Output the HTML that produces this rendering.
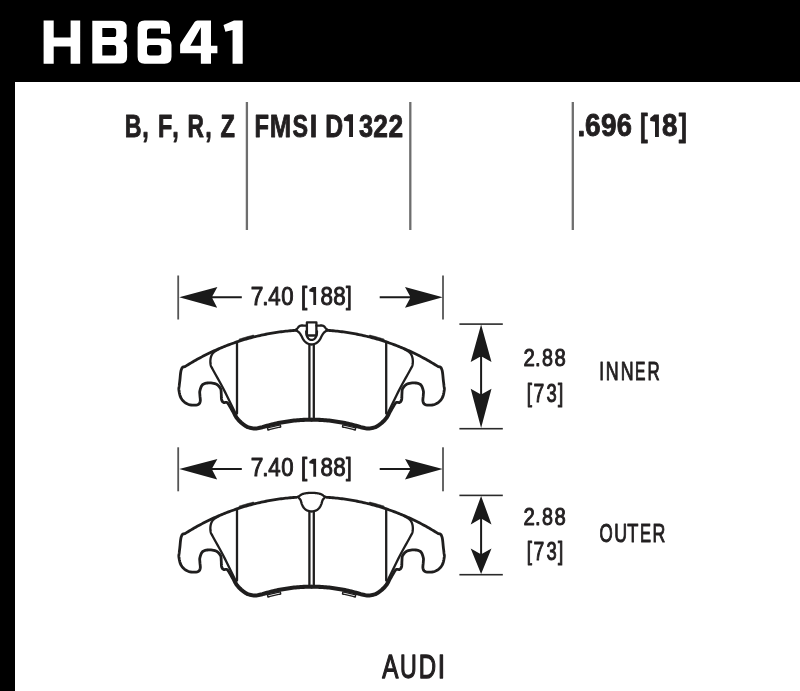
<!DOCTYPE html><html><head><meta charset="utf-8"><style>html,body{margin:0;padding:0;background:#fff;width:800px;height:691px;overflow:hidden}</style></head><body><svg width="800" height="691" viewBox="0 0 800 691" style="display:block;will-change:transform;font-family:'Liberation Sans',sans-serif"><rect x="0" y="0" width="800" height="82" fill="#000"/><rect x="0" y="0" width="15" height="691" fill="#000"/><path fill="#fff" fill-rule="evenodd" d="M43.6 20.6H53.7V37.6H70.6V20.6H80.2V63.7H70.6V46.6H53.7V63.7H43.6ZM92.3 20.7H120Q126.7 20.7 126.7 27.4V35Q126.7 39.4 123.2 40.9Q127.1 42.4 127.1 47V56.9Q127.1 63.6 120.4 63.6H92.3ZM102.3 28H113.6Q116.2 28 116.2 30.6V34.5Q116.2 37.1 113.6 37.1H102.3ZM102.3 45H113.6Q116.2 45 116.2 47.6V52.9Q116.2 55.5 113.6 55.5H102.3ZM144.6 20.5H163Q170 20.5 170 27.5V33.7H161V28.4H150Q147 28.4 147 31.4V38.6H165Q171.5 38.6 171.5 45.1V56.8Q171.5 63.8 164.5 63.8H144.6Q137.6 63.8 137.6 56.8V27.5Q137.6 20.5 144.6 20.5ZM150 45H158.3Q161.3 45 161.3 48V52.5Q161.3 55.5 158.3 55.5H150Q147 55.5 147 52.5V48Q147 45 150 45ZM197.5 20.5H211V45.7H217.4V53.3H211V63.8H200.85V53.3H180.1V45.5Q180.1 44.2 180.9 43.1L194.6 22Q195.6 20.5 197.5 20.5ZM200.85 27.3L190.3 45.7H200.85ZM234 20.5H242.7V63.8H232.55V29.9L225.4 31.8L223.5 25Z"/><text transform="translate(124.77 136.65) scale(0.726 1)" font-size="31.98" font-weight="bold" fill="#221f20" stroke="#221f20" stroke-width="0.9" stroke-linejoin="round">B</text><text transform="translate(142.35 136.65) scale(0.728 1)" font-size="31.98" font-weight="bold" fill="#221f20" stroke="#221f20" stroke-width="0.9" stroke-linejoin="round">,</text><text transform="translate(158.01 136.65) scale(0.731 1)" font-size="31.98" font-weight="bold" fill="#221f20" stroke="#221f20" stroke-width="0.9" stroke-linejoin="round">F</text><text transform="translate(172.35 136.65) scale(0.728 1)" font-size="31.98" font-weight="bold" fill="#221f20" stroke="#221f20" stroke-width="0.9" stroke-linejoin="round">,</text><text transform="translate(187.51 136.65) scale(0.711 1)" font-size="31.98" font-weight="bold" fill="#221f20" stroke="#221f20" stroke-width="0.9" stroke-linejoin="round">R</text><text transform="translate(205.18 136.65) scale(0.728 1)" font-size="31.98" font-weight="bold" fill="#221f20" stroke="#221f20" stroke-width="0.9" stroke-linejoin="round">,</text><text transform="translate(220.43 136.65) scale(0.738 1)" font-size="31.98" font-weight="bold" fill="#221f20" stroke="#221f20" stroke-width="0.9" stroke-linejoin="round">Z</text><text transform="translate(254.40 136.55) scale(0.738 1)" font-size="32.12" font-weight="bold" fill="#221f20" stroke="#221f20" stroke-width="0.9" stroke-linejoin="round">F</text><text transform="translate(269.80 136.55) scale(0.800 1)" font-size="32.12" font-weight="bold" fill="#221f20" stroke="#221f20" stroke-width="0.9" stroke-linejoin="round">M</text><text transform="translate(292.61 136.55) scale(0.725 1)" font-size="32.12" font-weight="bold" fill="#221f20" stroke="#221f20" stroke-width="0.9" stroke-linejoin="round">S</text><text transform="translate(309.75 136.55) scale(0.840 1)" font-size="32.12" font-weight="bold" fill="#221f20" stroke="#221f20" stroke-width="0.9" stroke-linejoin="round">I</text><text transform="translate(325.36 136.55) scale(0.770 1)" font-size="32.12" font-weight="bold" fill="#221f20" stroke="#221f20" stroke-width="0.9" stroke-linejoin="round">D</text><text transform="translate(358.92 136.55) scale(0.789 1)" font-size="32.12" font-weight="bold" fill="#221f20" stroke="#221f20" stroke-width="0.9" stroke-linejoin="round">3</text><text transform="translate(373.34 136.55) scale(0.821 1)" font-size="32.12" font-weight="bold" fill="#221f20" stroke="#221f20" stroke-width="0.9" stroke-linejoin="round">2</text><text transform="translate(388.38 136.55) scale(0.819 1)" font-size="32.12" font-weight="bold" fill="#221f20" stroke="#221f20" stroke-width="0.9" stroke-linejoin="round">2</text><path fill="#221f20" d="M343.9 118.0L348.5 114.3H353.0V136.9H349.1V121.6L343.9 120.8Z"/><text transform="translate(577.40 136.15) scale(0.890 1)" font-size="31.25" font-weight="bold" fill="#221f20" stroke="#221f20" stroke-width="0.9" stroke-linejoin="round">.</text><text transform="translate(585.06 136.15) scale(0.895 1)" font-size="31.25" font-weight="bold" fill="#221f20" stroke="#221f20" stroke-width="0.9" stroke-linejoin="round">6</text><text transform="translate(601.01 136.15) scale(0.894 1)" font-size="31.25" font-weight="bold" fill="#221f20" stroke="#221f20" stroke-width="0.9" stroke-linejoin="round">9</text><text transform="translate(616.82 136.15) scale(0.872 1)" font-size="31.25" font-weight="bold" fill="#221f20" stroke="#221f20" stroke-width="0.9" stroke-linejoin="round">6</text><text transform="translate(639.93 136.15) scale(0.741 1)" font-size="31.25" font-weight="bold" fill="#221f20" stroke="#221f20" stroke-width="0.9" stroke-linejoin="round">[</text><text transform="translate(661.94 136.15) scale(0.886 1)" font-size="31.25" font-weight="bold" fill="#221f20" stroke="#221f20" stroke-width="0.9" stroke-linejoin="round">8</text><text transform="translate(678.81 136.15) scale(0.784 1)" font-size="31.25" font-weight="bold" fill="#221f20" stroke="#221f20" stroke-width="0.9" stroke-linejoin="round">]</text><path fill="#221f20" d="M650.2 118.1L654.4 114.4H658.9V137.1H655.0V121.7L650.2 120.9Z"/><rect x="245.75" y="102" width="2.3" height="128" fill="#6e6e6e"/><rect x="409.15" y="102" width="2.3" height="128" fill="#6e6e6e"/><rect x="571.65" y="102" width="2.3" height="128" fill="#6e6e6e"/><rect x="177.3" y="275.5" width="1.8" height="44" fill="#555"/><rect x="442.1" y="275.5" width="1.8" height="44" fill="#555"/><path fill="#1a1a1a" d="M179.2 297.3L217.4 287.1L212.3 296.3H241.8V298.3H212.3L217.2 307.7Z"/><path fill="#1a1a1a" d="M442.7 297.3L405 287.1L410.1 296.3H379.7V298.3H410.1L405 307.7Z"/><text transform="translate(250.82 304.50) scale(0.909 1)" font-size="25.00" font-weight="normal" fill="#221f20" stroke="#221f20" stroke-width="1.0" stroke-linejoin="round">7</text><text transform="translate(262.29 304.50) scale(0.895 1)" font-size="25.00" font-weight="normal" fill="#221f20" stroke="#221f20" stroke-width="1.0" stroke-linejoin="round">.</text><text transform="translate(268.21 304.50) scale(0.890 1)" font-size="25.00" font-weight="normal" fill="#221f20" stroke="#221f20" stroke-width="1.0" stroke-linejoin="round">4</text><text transform="translate(281.32 304.50) scale(0.885 1)" font-size="25.00" font-weight="normal" fill="#221f20" stroke="#221f20" stroke-width="1.0" stroke-linejoin="round">0</text><text transform="translate(300.90 304.50) scale(0.890 1)" font-size="25.00" font-weight="normal" fill="#221f20" stroke="#221f20" stroke-width="1.0" stroke-linejoin="round">[</text><text transform="translate(320.43 304.50) scale(0.895 1)" font-size="25.00" font-weight="normal" fill="#221f20" stroke="#221f20" stroke-width="1.0" stroke-linejoin="round">8</text><text transform="translate(333.23 304.50) scale(0.895 1)" font-size="25.00" font-weight="normal" fill="#221f20" stroke="#221f20" stroke-width="1.0" stroke-linejoin="round">8</text><text transform="translate(346.05 304.50) scale(0.820 1)" font-size="25.00" font-weight="normal" fill="#221f20" stroke="#221f20" stroke-width="1.0" stroke-linejoin="round">]</text><path fill="#221f20" d="M309.3 289.6L312.7 287.0H316.1V305.0H313.3V292.2L309.3 291.4Z"/><rect x="177.3" y="447.3" width="1.8" height="44" fill="#555"/><rect x="442.1" y="447.3" width="1.8" height="44" fill="#555"/><path fill="#1a1a1a" d="M179.2 469.1L217.4 458.90000000000003L212.3 468.1H241.8V470.1H212.3L217.2 479.5Z"/><path fill="#1a1a1a" d="M442.7 469.1L405 458.90000000000003L410.1 468.1H379.7V470.1H410.1L405 479.5Z"/><text transform="translate(250.82 476.30) scale(0.909 1)" font-size="25.00" font-weight="normal" fill="#221f20" stroke="#221f20" stroke-width="1.0" stroke-linejoin="round">7</text><text transform="translate(262.29 476.30) scale(0.895 1)" font-size="25.00" font-weight="normal" fill="#221f20" stroke="#221f20" stroke-width="1.0" stroke-linejoin="round">.</text><text transform="translate(268.21 476.30) scale(0.890 1)" font-size="25.00" font-weight="normal" fill="#221f20" stroke="#221f20" stroke-width="1.0" stroke-linejoin="round">4</text><text transform="translate(281.32 476.30) scale(0.885 1)" font-size="25.00" font-weight="normal" fill="#221f20" stroke="#221f20" stroke-width="1.0" stroke-linejoin="round">0</text><text transform="translate(300.90 476.30) scale(0.890 1)" font-size="25.00" font-weight="normal" fill="#221f20" stroke="#221f20" stroke-width="1.0" stroke-linejoin="round">[</text><text transform="translate(320.43 476.30) scale(0.895 1)" font-size="25.00" font-weight="normal" fill="#221f20" stroke="#221f20" stroke-width="1.0" stroke-linejoin="round">8</text><text transform="translate(333.23 476.30) scale(0.895 1)" font-size="25.00" font-weight="normal" fill="#221f20" stroke="#221f20" stroke-width="1.0" stroke-linejoin="round">8</text><text transform="translate(346.05 476.30) scale(0.820 1)" font-size="25.00" font-weight="normal" fill="#221f20" stroke="#221f20" stroke-width="1.0" stroke-linejoin="round">]</text><path fill="#221f20" d="M309.3 461.40000000000003L312.7 458.8H316.1V476.8H313.3V464.0L309.3 463.2Z"/><rect x="459.4" y="323.30" width="43.4" height="1.6" fill="#2a2a2a"/><rect x="459.4" y="427.90" width="43.4" height="1.6" fill="#2a2a2a"/><path fill="#1a1a1a" d="M481.1 324.6L491.5 362.10L482.1 356.80V394.10L491.5 388.80L481.1 427.9L470.70000000000005 388.80L480.1 394.10V356.80L470.70000000000005 362.10Z"/><rect x="459.4" y="494.60" width="43.4" height="1.6" fill="#2a2a2a"/><rect x="459.4" y="573.90" width="43.4" height="1.6" fill="#2a2a2a"/><path fill="#1a1a1a" d="M481.1 495.9L491.5 524.40L482.1 519.10V553.80L491.5 548.50L481.1 573.9000000000001L470.70000000000005 548.50L480.1 553.80V519.10L470.70000000000005 524.40Z"/><text transform="translate(523.41 366.40) scale(0.845 1)" font-size="24.13" font-weight="normal" fill="#221f20" stroke="#221f20" stroke-width="1.0" stroke-linejoin="round">2</text><text transform="translate(535.04 366.40) scale(0.839 1)" font-size="24.13" font-weight="normal" fill="#221f20" stroke="#221f20" stroke-width="1.0" stroke-linejoin="round">.</text><text transform="translate(541.92 366.40) scale(0.817 1)" font-size="24.13" font-weight="normal" fill="#221f20" stroke="#221f20" stroke-width="1.0" stroke-linejoin="round">8</text><text transform="translate(554.42 366.40) scale(0.839 1)" font-size="24.13" font-weight="normal" fill="#221f20" stroke="#221f20" stroke-width="1.0" stroke-linejoin="round">8</text><text transform="translate(526.75 401.80) scale(0.754 1)" font-size="24.86" font-weight="normal" fill="#221f20" stroke="#221f20" stroke-width="1.0" stroke-linejoin="round">[</text><text transform="translate(533.42 401.80) scale(0.778 1)" font-size="24.86" font-weight="normal" fill="#221f20" stroke="#221f20" stroke-width="1.0" stroke-linejoin="round">7</text><text transform="translate(546.39 401.80) scale(0.740 1)" font-size="24.86" font-weight="normal" fill="#221f20" stroke="#221f20" stroke-width="1.0" stroke-linejoin="round">3</text><text transform="translate(558.06 401.80) scale(0.764 1)" font-size="24.86" font-weight="normal" fill="#221f20" stroke="#221f20" stroke-width="1.0" stroke-linejoin="round">]</text><text transform="translate(523.41 525.20) scale(0.845 1)" font-size="24.13" font-weight="normal" fill="#221f20" stroke="#221f20" stroke-width="1.0" stroke-linejoin="round">2</text><text transform="translate(535.04 525.20) scale(0.839 1)" font-size="24.13" font-weight="normal" fill="#221f20" stroke="#221f20" stroke-width="1.0" stroke-linejoin="round">.</text><text transform="translate(541.92 525.20) scale(0.817 1)" font-size="24.13" font-weight="normal" fill="#221f20" stroke="#221f20" stroke-width="1.0" stroke-linejoin="round">8</text><text transform="translate(554.42 525.20) scale(0.839 1)" font-size="24.13" font-weight="normal" fill="#221f20" stroke="#221f20" stroke-width="1.0" stroke-linejoin="round">8</text><text transform="translate(526.75 560.40) scale(0.754 1)" font-size="24.86" font-weight="normal" fill="#221f20" stroke="#221f20" stroke-width="1.0" stroke-linejoin="round">[</text><text transform="translate(533.42 560.40) scale(0.778 1)" font-size="24.86" font-weight="normal" fill="#221f20" stroke="#221f20" stroke-width="1.0" stroke-linejoin="round">7</text><text transform="translate(546.39 560.40) scale(0.740 1)" font-size="24.86" font-weight="normal" fill="#221f20" stroke="#221f20" stroke-width="1.0" stroke-linejoin="round">3</text><text transform="translate(558.06 560.40) scale(0.764 1)" font-size="24.86" font-weight="normal" fill="#221f20" stroke="#221f20" stroke-width="1.0" stroke-linejoin="round">]</text><text transform="translate(599.32 379.70) scale(0.674 1)" font-size="25.44" font-weight="normal" fill="#221f20" stroke="#221f20" stroke-width="1.0" stroke-linejoin="round">I</text><text transform="translate(605.74 379.70) scale(0.703 1)" font-size="25.44" font-weight="normal" fill="#221f20" stroke="#221f20" stroke-width="1.0" stroke-linejoin="round">N</text><text transform="translate(620.63 379.70) scale(0.701 1)" font-size="25.44" font-weight="normal" fill="#221f20" stroke="#221f20" stroke-width="1.0" stroke-linejoin="round">N</text><text transform="translate(635.07 379.70) scale(0.618 1)" font-size="25.44" font-weight="normal" fill="#221f20" stroke="#221f20" stroke-width="1.0" stroke-linejoin="round">E</text><text transform="translate(647.54 379.70) scale(0.665 1)" font-size="25.44" font-weight="normal" fill="#221f20" stroke="#221f20" stroke-width="1.0" stroke-linejoin="round">R</text><text transform="translate(599.62 541.80) scale(0.666 1)" font-size="25.44" font-weight="normal" fill="#221f20" stroke="#221f20" stroke-width="1.0" stroke-linejoin="round">O</text><text transform="translate(614.13 541.80) scale(0.699 1)" font-size="25.44" font-weight="normal" fill="#221f20" stroke="#221f20" stroke-width="1.0" stroke-linejoin="round">U</text><text transform="translate(627.22 541.80) scale(0.716 1)" font-size="25.44" font-weight="normal" fill="#221f20" stroke="#221f20" stroke-width="1.0" stroke-linejoin="round">T</text><text transform="translate(640.11 541.80) scale(0.650 1)" font-size="25.44" font-weight="normal" fill="#221f20" stroke="#221f20" stroke-width="1.0" stroke-linejoin="round">E</text><text transform="translate(652.39 541.80) scale(0.699 1)" font-size="25.44" font-weight="normal" fill="#221f20" stroke="#221f20" stroke-width="1.0" stroke-linejoin="round">R</text><text transform="translate(382.17 677.83) scale(0.720 1)" font-size="33.65" font-weight="normal" fill="#221f20" stroke="#221f20" stroke-width="1.35" stroke-linejoin="round">A</text><text transform="translate(400.12 677.83) scale(0.689 1)" font-size="33.65" font-weight="normal" fill="#221f20" stroke="#221f20" stroke-width="1.35" stroke-linejoin="round">U</text><text transform="translate(418.67 677.83) scale(0.713 1)" font-size="33.65" font-weight="normal" fill="#221f20" stroke="#221f20" stroke-width="1.35" stroke-linejoin="round">D</text><text transform="translate(437.85 677.83) scale(0.781 1)" font-size="33.65" font-weight="normal" fill="#221f20" stroke="#221f20" stroke-width="1.35" stroke-linejoin="round">I</text><g fill="none" stroke="#1f1e1e" stroke-width="2.3" stroke-linejoin="round" stroke-linecap="round"><path d="M296.50 330.28 L294.97 330.39 L293.45 330.50 L291.92 330.62 L290.39 330.75 L288.86 330.90 L287.34 331.05 L285.81 331.21 L284.28 331.39 L282.75 331.57 L281.23 331.76 L279.70 331.96 L278.17 332.18 L276.64 332.40 L275.12 332.63 L273.59 332.88 L272.06 333.13 L270.53 333.40 L269.01 333.67 L267.48 333.96 L265.95 334.25 L264.42 334.56 L262.90 334.88 L261.37 335.20 L259.84 335.54 L258.32 335.89 L256.79 336.25 L255.26 336.62 L253.73 337.00 L252.21 337.39 L250.68 337.79 L249.15 338.21 L247.62 338.63 L246.10 339.06 L244.57 339.51 L243.04 339.97 L241.51 340.44 L239.99 340.92 L238.46 341.41 L236.93 341.91 L235.40 342.43 L233.88 342.95 L232.35 343.49 L230.82 344.04 L229.29 344.60 L227.77 345.18 L226.24 345.76 L224.71 346.36 L223.18 346.97 L221.66 347.59 L220.13 348.23 L218.60 348.88 L217.08 349.54 L215.55 350.21 L214.02 350.90 L212.49 351.60 L210.97 352.31 L209.44 353.04 L207.91 353.78 L206.38 354.53 L204.86 355.30 L203.33 356.08 L201.80 356.87 L200.27 357.68 L198.75 358.50 L197.22 359.34 L195.69 360.19 L194.16 361.06 L192.64 361.95 L191.11 362.84 L189.58 363.76 L188.05 364.69 L186.53 365.63 L185.00 366.59 L184.61 366.68 L184.20 366.74 L183.79 366.80 L183.39 366.88 L183.03 367.01 L182.70 367.20 L182.42 367.46 L182.17 367.76 L181.96 368.11 L181.76 368.50 L181.58 368.93 L181.40 369.40 L181.24 369.88 L181.09 370.37 L180.96 370.90 L180.84 371.50 L180.72 372.19 L180.60 373.00 L180.48 373.98 L180.36 375.12 L180.24 376.35 L180.13 377.61 L180.02 378.85 L179.90 380.00 L179.78 381.08 L179.65 382.15 L179.53 383.19 L179.40 384.19 L179.29 385.13 L179.20 386.00 L179.10 386.74 L178.99 387.35 L178.89 387.91 L178.83 388.48 L178.82 389.15 L178.90 390.00 L179.05 391.07 L179.26 392.32 L179.53 393.67 L179.86 395.04 L180.26 396.34 L180.75 397.50 L181.33 398.54 L182.00 399.53 L182.74 400.45 L183.54 401.31 L184.38 402.07 L185.25 402.75 L186.15 403.33 L187.11 403.82 L188.11 404.23 L189.14 404.56 L190.19 404.81 L191.25 405.00 L192.38 405.12 L193.61 405.17 L194.86 405.15 L196.06 405.05 L197.13 404.87 L198.00 404.60 L198.67 404.24 L199.18 403.80 L199.57 403.28 L199.86 402.67 L200.08 402.00 L200.25 401.25 L200.34 400.39 L200.31 399.39 L200.22 398.32 L200.09 397.24 L199.97 396.19 L199.90 395.25 L199.85 394.43 L199.78 393.69 L199.72 393.00 L199.69 392.31 L199.75 391.57 L199.90 390.75 L200.14 389.79 L200.45 388.71 L200.83 387.58 L201.29 386.50 L201.84 385.53 L202.50 384.75 L203.29 384.17 L204.19 383.72 L205.19 383.38 L206.26 383.14 L207.37 382.99 L208.50 382.90 L209.70 382.87 L211.00 382.92 L212.34 383.05 L213.67 383.27 L214.91 383.59 L216.00 384.00 L216.97 384.54 L217.86 385.22 L218.67 385.99 L219.39 386.82 L220.00 387.67 L220.50 388.50 L220.85 389.32 L221.04 390.17 L221.13 391.03 L221.17 391.92 L221.19 392.82 L221.25 393.75 L221.31 394.75 L221.34 395.82 L221.35 396.91 L221.38 397.97 L221.46 398.94 L221.60 399.75 L221.81 400.42 L222.08 400.98 L222.38 401.45 L222.73 401.84 L223.10 402.15 L223.50 402.40 L223.95 402.54 L224.46 402.54 L225.01 402.47 L225.55 402.39 L226.06 402.34 L226.50 402.40 L226.84 402.50 L227.08 402.57 L227.30 402.69 L227.53 402.91 L227.83 403.29 L228.25 403.90 L228.82 404.79 L229.50 405.93 L230.25 407.23 L231.03 408.61 L231.79 409.98 L232.50 411.25 L233.14 412.45 L233.73 413.65 L234.31 414.84 L234.91 416.01 L235.54 417.13 L236.25 418.20 L237.03 419.22 L237.86 420.20 L238.73 421.14 L239.64 422.04 L240.56 422.89 L241.50 423.70 L242.44 424.47 L243.39 425.21 L244.36 425.90 L245.36 426.54 L246.40 427.11 L247.50 427.60 L248.66 428.02 L249.89 428.38 L251.16 428.68 L252.44 428.90 L253.73 429.04 L255.00 429.10 L256.25 429.05 L257.50 428.87 L258.75 428.63 L260.00 428.34 L261.25 428.05 L262.50 427.80 L262.50 427.77 L264.08 427.29 L265.67 426.82 L267.25 426.37 L268.84 425.94 L270.42 425.52 L272.00 425.12 L273.59 424.74 L275.17 424.37 L276.75 424.02 L278.34 423.69 L279.92 423.37 L281.51 423.07 L283.09 422.78 L284.67 422.51 L286.26 422.26 L287.84 422.02 L289.43 421.80 L291.01 421.59 L292.59 421.40 L294.18 421.22 L295.76 421.06 L297.35 420.92 L298.93 420.79 L300.51 420.67 L302.10 420.57 L303.68 420.49 L305.26 420.42 L306.85 420.37 L308.43 420.33 L310.02 420.31 L311.60 420.30" stroke-width="2.8"/><path d="M326.70 330.28 L328.23 330.39 L329.75 330.50 L331.28 330.62 L332.81 330.75 L334.34 330.90 L335.86 331.05 L337.39 331.21 L338.92 331.39 L340.45 331.57 L341.97 331.76 L343.50 331.96 L345.03 332.18 L346.56 332.40 L348.08 332.63 L349.61 332.88 L351.14 333.13 L352.67 333.40 L354.19 333.67 L355.72 333.96 L357.25 334.25 L358.78 334.56 L360.30 334.88 L361.83 335.20 L363.36 335.54 L364.88 335.89 L366.41 336.25 L367.94 336.62 L369.47 337.00 L370.99 337.39 L372.52 337.79 L374.05 338.21 L375.58 338.63 L377.10 339.06 L378.63 339.51 L380.16 339.97 L381.69 340.44 L383.21 340.92 L384.74 341.41 L386.27 341.91 L387.80 342.43 L389.32 342.95 L390.85 343.49 L392.38 344.04 L393.91 344.60 L395.43 345.18 L396.96 345.76 L398.49 346.36 L400.02 346.97 L401.54 347.59 L403.07 348.23 L404.60 348.88 L406.12 349.54 L407.65 350.21 L409.18 350.90 L410.71 351.60 L412.23 352.31 L413.76 353.04 L415.29 353.78 L416.82 354.53 L418.34 355.30 L419.87 356.08 L421.40 356.87 L422.93 357.68 L424.45 358.50 L425.98 359.34 L427.51 360.19 L429.04 361.06 L430.56 361.95 L432.09 362.84 L433.62 363.76 L435.15 364.69 L436.67 365.63 L438.20 366.59 L438.59 366.68 L439.00 366.74 L439.41 366.80 L439.81 366.88 L440.17 367.01 L440.50 367.20 L440.78 367.46 L441.03 367.76 L441.24 368.11 L441.44 368.50 L441.62 368.93 L441.80 369.40 L441.96 369.88 L442.11 370.37 L442.24 370.90 L442.36 371.50 L442.48 372.19 L442.60 373.00 L442.72 373.98 L442.84 375.12 L442.96 376.35 L443.07 377.61 L443.18 378.85 L443.30 380.00 L443.42 381.08 L443.55 382.15 L443.68 383.19 L443.80 384.19 L443.91 385.13 L444.00 386.00 L444.10 386.74 L444.21 387.35 L444.31 387.91 L444.37 388.48 L444.38 389.15 L444.30 390.00 L444.15 391.07 L443.94 392.32 L443.68 393.67 L443.34 395.04 L442.94 396.34 L442.45 397.50 L441.87 398.54 L441.20 399.53 L440.46 400.45 L439.66 401.31 L438.82 402.07 L437.95 402.75 L437.05 403.33 L436.09 403.82 L435.09 404.23 L434.06 404.56 L433.01 404.81 L431.95 405.00 L430.82 405.12 L429.59 405.17 L428.34 405.15 L427.14 405.05 L426.07 404.87 L425.20 404.60 L424.53 404.24 L424.02 403.80 L423.63 403.28 L423.34 402.67 L423.12 402.00 L422.95 401.25 L422.86 400.39 L422.89 399.39 L422.98 398.32 L423.11 397.24 L423.23 396.19 L423.30 395.25 L423.35 394.43 L423.42 393.69 L423.48 393.00 L423.51 392.31 L423.45 391.57 L423.30 390.75 L423.06 389.79 L422.75 388.71 L422.38 387.58 L421.91 386.50 L421.36 385.53 L420.70 384.75 L419.91 384.17 L419.01 383.72 L418.01 383.38 L416.94 383.14 L415.83 382.99 L414.70 382.90 L413.50 382.87 L412.20 382.92 L410.86 383.05 L409.53 383.27 L408.29 383.59 L407.20 384.00 L406.23 384.54 L405.34 385.22 L404.53 385.99 L403.81 386.82 L403.20 387.67 L402.70 388.50 L402.35 389.32 L402.16 390.17 L402.07 391.03 L402.03 391.92 L402.01 392.82 L401.95 393.75 L401.89 394.75 L401.86 395.82 L401.85 396.91 L401.82 397.97 L401.74 398.94 L401.60 399.75 L401.39 400.42 L401.12 400.98 L400.82 401.45 L400.47 401.84 L400.10 402.15 L399.70 402.40 L399.25 402.54 L398.74 402.54 L398.19 402.47 L397.65 402.39 L397.14 402.34 L396.70 402.40 L396.36 402.50 L396.12 402.57 L395.90 402.69 L395.67 402.91 L395.37 403.29 L394.95 403.90 L394.38 404.79 L393.70 405.93 L392.95 407.23 L392.17 408.61 L391.41 409.98 L390.70 411.25 L390.06 412.45 L389.47 413.65 L388.89 414.84 L388.29 416.01 L387.66 417.13 L386.95 418.20 L386.17 419.22 L385.34 420.20 L384.47 421.14 L383.56 422.04 L382.64 422.89 L381.70 423.70 L380.76 424.47 L379.81 425.21 L378.84 425.90 L377.84 426.54 L376.80 427.11 L375.70 427.60 L374.54 428.02 L373.31 428.38 L372.04 428.68 L370.76 428.90 L369.47 429.04 L368.20 429.10 L366.95 429.05 L365.70 428.87 L364.45 428.63 L363.20 428.34 L361.95 428.05 L360.70 427.80 L360.70 427.77 L359.12 427.29 L357.53 426.82 L355.95 426.37 L354.36 425.94 L352.78 425.52 L351.20 425.12 L349.61 424.74 L348.03 424.37 L346.45 424.02 L344.86 423.69 L343.28 423.37 L341.69 423.07 L340.11 422.78 L338.53 422.51 L336.94 422.26 L335.36 422.02 L333.77 421.80 L332.19 421.59 L330.61 421.40 L329.02 421.22 L327.44 421.06 L325.85 420.92 L324.27 420.79 L322.69 420.67 L321.10 420.57 L319.52 420.49 L317.94 420.42 L316.35 420.37 L314.77 420.33 L313.18 420.31 L311.60 420.30" stroke-width="2.8"/><path d="M219.00 349.01 L218.00 349.62 L216.94 350.22 L215.89 350.82 L214.89 351.43 L213.98 352.09 L213.20 352.80 L212.56 353.57 L212.03 354.38 L211.59 355.23 L211.23 356.12 L210.94 357.04 L210.70 358.00 L210.52 359.03 L210.40 360.13 L210.36 361.26 L210.37 362.40 L210.46 363.49 L210.60 364.50 L210.74 365.26 L210.87 365.78 L211.06 366.25 L211.39 366.89 L211.94 367.90 L212.80 369.50 L214.02 371.74 L215.56 374.48 L217.31 377.59 L219.20 380.96 L221.13 384.47 L223.00 388.00 L224.85 391.63 L226.76 395.46 L228.71 399.44 L230.68 403.48 L232.65 407.53 L234.60 411.50 L236.23 415.30 L236.82 416.35 L237.47 417.33 L238.20 418.28 L238.98 419.20 L239.81 420.10 L240.68 420.96 L241.56 421.77 L242.47 422.55 L243.37 423.30 L244.28 424.00 L245.20 424.66 L246.12 425.25 L247.07 425.76 L248.06 426.21 L249.13 426.60 L250.27 426.93 L251.45 427.20 L252.65 427.41 L253.85 427.54 L255.00 427.60 L256.11 427.55 L257.25 427.39 L258.43 427.16 L259.66 426.88 L260.93 426.58 L262.11 426.35 L263.64 425.86 L265.25 425.38 L266.85 424.93 L268.45 424.49 L270.04 424.07 L271.64 423.67 L273.24 423.28 L274.84 422.91 L276.44 422.56 L278.04 422.22 L279.63 421.90 L281.23 421.59 L282.83 421.30 L284.43 421.03 L286.03 420.78 L287.63 420.54 L289.22 420.31 L290.82 420.10 L292.42 419.91 L294.02 419.73 L295.62 419.57 L297.22 419.42 L298.81 419.29 L300.41 419.18 L302.01 419.08 L303.61 418.99 L305.21 418.92 L306.81 418.87 L308.40 418.83 L310.00 418.81 L311.59 418.80"/><path d="M404.20 349.01 L405.20 349.62 L406.26 350.22 L407.31 350.82 L408.31 351.43 L409.22 352.09 L410.00 352.80 L410.64 353.57 L411.17 354.38 L411.61 355.23 L411.97 356.12 L412.26 357.04 L412.50 358.00 L412.68 359.03 L412.80 360.13 L412.84 361.26 L412.83 362.40 L412.74 363.49 L412.60 364.50 L412.46 365.26 L412.33 365.78 L412.14 366.25 L411.81 366.89 L411.26 367.90 L410.40 369.50 L409.18 371.74 L407.64 374.48 L405.89 377.59 L404.00 380.96 L402.07 384.47 L400.20 388.00 L398.35 391.63 L396.44 395.46 L394.49 399.44 L392.52 403.48 L390.55 407.53 L388.60 411.50 L386.97 415.30 L386.38 416.35 L385.73 417.33 L385.00 418.28 L384.22 419.20 L383.39 420.10 L382.52 420.96 L381.64 421.77 L380.73 422.55 L379.83 423.30 L378.92 424.00 L378.00 424.66 L377.08 425.25 L376.13 425.76 L375.14 426.21 L374.07 426.60 L372.93 426.93 L371.75 427.20 L370.55 427.41 L369.35 427.54 L368.20 427.60 L367.09 427.55 L365.95 427.39 L364.77 427.16 L363.54 426.88 L362.27 426.58 L361.09 426.35 L359.56 425.86 L357.95 425.38 L356.35 424.93 L354.75 424.49 L353.16 424.07 L351.56 423.67 L349.96 423.28 L348.36 422.91 L346.76 422.56 L345.16 422.22 L343.57 421.90 L341.97 421.59 L340.37 421.30 L338.77 421.03 L337.17 420.78 L335.57 420.54 L333.98 420.31 L332.38 420.10 L330.78 419.91 L329.18 419.73 L327.58 419.57 L325.98 419.42 L324.39 419.29 L322.79 419.18 L321.19 419.08 L319.59 418.99 L317.99 418.92 L316.39 418.87 L314.80 418.83 L313.20 418.81 L311.61 418.80"/><path d="M237 341.89 L237 413.50"/><path d="M386.20 341.89 L386.20 413.50"/><path d="M296.50 497.28 L294.97 497.39 L293.45 497.50 L291.92 497.62 L290.39 497.75 L288.86 497.90 L287.34 498.05 L285.81 498.21 L284.28 498.39 L282.75 498.57 L281.23 498.76 L279.70 498.96 L278.17 499.18 L276.64 499.40 L275.12 499.63 L273.59 499.88 L272.06 500.13 L270.53 500.40 L269.01 500.67 L267.48 500.96 L265.95 501.25 L264.42 501.56 L262.90 501.88 L261.37 502.20 L259.84 502.54 L258.32 502.89 L256.79 503.25 L255.26 503.62 L253.73 504.00 L252.21 504.39 L250.68 504.79 L249.15 505.21 L247.62 505.63 L246.10 506.06 L244.57 506.51 L243.04 506.97 L241.51 507.44 L239.99 507.92 L238.46 508.41 L236.93 508.91 L235.40 509.43 L233.88 509.95 L232.35 510.49 L230.82 511.04 L229.29 511.60 L227.77 512.18 L226.24 512.76 L224.71 513.36 L223.18 513.97 L221.66 514.59 L220.13 515.23 L218.60 515.88 L217.08 516.54 L215.55 517.21 L214.02 517.90 L212.49 518.60 L210.97 519.31 L209.44 520.04 L207.91 520.78 L206.38 521.53 L204.86 522.30 L203.33 523.08 L201.80 523.87 L200.27 524.68 L198.75 525.50 L197.22 526.34 L195.69 527.19 L194.16 528.06 L192.64 528.95 L191.11 529.84 L189.58 530.76 L188.05 531.69 L186.53 532.63 L185.00 533.59 L184.61 533.68 L184.20 533.74 L183.79 533.80 L183.39 533.88 L183.03 534.01 L182.70 534.20 L182.42 534.46 L182.17 534.76 L181.96 535.11 L181.76 535.50 L181.58 535.93 L181.40 536.40 L181.24 536.88 L181.09 537.37 L180.96 537.90 L180.84 538.50 L180.72 539.19 L180.60 540.00 L180.48 540.98 L180.36 542.12 L180.24 543.35 L180.13 544.61 L180.02 545.85 L179.90 547.00 L179.78 548.08 L179.65 549.15 L179.53 550.19 L179.40 551.19 L179.29 552.13 L179.20 553.00 L179.10 553.74 L178.99 554.35 L178.89 554.91 L178.83 555.48 L178.82 556.15 L178.90 557.00 L179.05 558.07 L179.26 559.32 L179.53 560.67 L179.86 562.04 L180.26 563.34 L180.75 564.50 L181.33 565.54 L182.00 566.53 L182.74 567.45 L183.54 568.31 L184.38 569.07 L185.25 569.75 L186.15 570.33 L187.11 570.82 L188.11 571.23 L189.14 571.56 L190.19 571.81 L191.25 572.00 L192.38 572.12 L193.61 572.17 L194.86 572.15 L196.06 572.05 L197.13 571.87 L198.00 571.60 L198.67 571.24 L199.18 570.80 L199.57 570.28 L199.86 569.67 L200.08 569.00 L200.25 568.25 L200.34 567.39 L200.31 566.39 L200.22 565.32 L200.09 564.24 L199.97 563.19 L199.90 562.25 L199.85 561.43 L199.78 560.69 L199.72 560.00 L199.69 559.31 L199.75 558.57 L199.90 557.75 L200.14 556.79 L200.45 555.71 L200.83 554.58 L201.29 553.50 L201.84 552.53 L202.50 551.75 L203.29 551.17 L204.19 550.72 L205.19 550.38 L206.26 550.14 L207.37 549.99 L208.50 549.90 L209.70 549.87 L211.00 549.92 L212.34 550.05 L213.67 550.27 L214.91 550.59 L216.00 551.00 L216.97 551.54 L217.86 552.22 L218.67 552.99 L219.39 553.82 L220.00 554.67 L220.50 555.50 L220.85 556.32 L221.04 557.17 L221.13 558.03 L221.17 558.92 L221.19 559.82 L221.25 560.75 L221.31 561.75 L221.34 562.82 L221.35 563.91 L221.38 564.97 L221.46 565.94 L221.60 566.75 L221.81 567.42 L222.08 567.98 L222.38 568.45 L222.73 568.84 L223.10 569.15 L223.50 569.40 L223.95 569.54 L224.46 569.54 L225.01 569.47 L225.55 569.39 L226.06 569.34 L226.50 569.40 L226.84 569.50 L227.08 569.57 L227.30 569.69 L227.53 569.91 L227.83 570.29 L228.25 570.90 L228.82 571.79 L229.50 572.93 L230.25 574.23 L231.03 575.61 L231.79 576.98 L232.50 578.25 L233.14 579.45 L233.73 580.65 L234.31 581.84 L234.91 583.01 L235.54 584.13 L236.25 585.20 L237.03 586.22 L237.86 587.20 L238.73 588.14 L239.64 589.04 L240.56 589.89 L241.50 590.70 L242.44 591.47 L243.39 592.21 L244.36 592.90 L245.36 593.54 L246.40 594.11 L247.50 594.60 L248.66 595.02 L249.89 595.38 L251.16 595.68 L252.44 595.90 L253.73 596.04 L255.00 596.10 L256.25 596.05 L257.50 595.87 L258.75 595.62 L260.00 595.34 L261.25 595.05 L262.50 594.80 L262.50 594.77 L264.08 594.29 L265.67 593.82 L267.25 593.37 L268.84 592.94 L270.42 592.52 L272.00 592.12 L273.59 591.74 L275.17 591.37 L276.75 591.02 L278.34 590.69 L279.92 590.37 L281.51 590.07 L283.09 589.78 L284.67 589.51 L286.26 589.26 L287.84 589.02 L289.43 588.80 L291.01 588.59 L292.59 588.40 L294.18 588.22 L295.76 588.06 L297.35 587.92 L298.93 587.79 L300.51 587.67 L302.10 587.57 L303.68 587.49 L305.26 587.42 L306.85 587.37 L308.43 587.33 L310.02 587.31 L311.60 587.30" stroke-width="2.8"/><path d="M326.70 497.28 L328.23 497.39 L329.75 497.50 L331.28 497.62 L332.81 497.75 L334.34 497.90 L335.86 498.05 L337.39 498.21 L338.92 498.39 L340.45 498.57 L341.97 498.76 L343.50 498.96 L345.03 499.18 L346.56 499.40 L348.08 499.63 L349.61 499.88 L351.14 500.13 L352.67 500.40 L354.19 500.67 L355.72 500.96 L357.25 501.25 L358.78 501.56 L360.30 501.88 L361.83 502.20 L363.36 502.54 L364.88 502.89 L366.41 503.25 L367.94 503.62 L369.47 504.00 L370.99 504.39 L372.52 504.79 L374.05 505.21 L375.58 505.63 L377.10 506.06 L378.63 506.51 L380.16 506.97 L381.69 507.44 L383.21 507.92 L384.74 508.41 L386.27 508.91 L387.80 509.43 L389.32 509.95 L390.85 510.49 L392.38 511.04 L393.91 511.60 L395.43 512.18 L396.96 512.76 L398.49 513.36 L400.02 513.97 L401.54 514.59 L403.07 515.23 L404.60 515.88 L406.12 516.54 L407.65 517.21 L409.18 517.90 L410.71 518.60 L412.23 519.31 L413.76 520.04 L415.29 520.78 L416.82 521.53 L418.34 522.30 L419.87 523.08 L421.40 523.87 L422.93 524.68 L424.45 525.50 L425.98 526.34 L427.51 527.19 L429.04 528.06 L430.56 528.95 L432.09 529.84 L433.62 530.76 L435.15 531.69 L436.67 532.63 L438.20 533.59 L438.59 533.68 L439.00 533.74 L439.41 533.80 L439.81 533.88 L440.17 534.01 L440.50 534.20 L440.78 534.46 L441.03 534.76 L441.24 535.11 L441.44 535.50 L441.62 535.93 L441.80 536.40 L441.96 536.88 L442.11 537.37 L442.24 537.90 L442.36 538.50 L442.48 539.19 L442.60 540.00 L442.72 540.98 L442.84 542.12 L442.96 543.35 L443.07 544.61 L443.18 545.85 L443.30 547.00 L443.42 548.08 L443.55 549.15 L443.68 550.19 L443.80 551.19 L443.91 552.13 L444.00 553.00 L444.10 553.74 L444.21 554.35 L444.31 554.91 L444.37 555.48 L444.38 556.15 L444.30 557.00 L444.15 558.07 L443.94 559.32 L443.68 560.67 L443.34 562.04 L442.94 563.34 L442.45 564.50 L441.87 565.54 L441.20 566.53 L440.46 567.45 L439.66 568.31 L438.82 569.07 L437.95 569.75 L437.05 570.33 L436.09 570.82 L435.09 571.23 L434.06 571.56 L433.01 571.81 L431.95 572.00 L430.82 572.12 L429.59 572.17 L428.34 572.15 L427.14 572.05 L426.07 571.87 L425.20 571.60 L424.53 571.24 L424.02 570.80 L423.63 570.28 L423.34 569.67 L423.12 569.00 L422.95 568.25 L422.86 567.39 L422.89 566.39 L422.98 565.32 L423.11 564.24 L423.23 563.19 L423.30 562.25 L423.35 561.43 L423.42 560.69 L423.48 560.00 L423.51 559.31 L423.45 558.57 L423.30 557.75 L423.06 556.79 L422.75 555.71 L422.38 554.58 L421.91 553.50 L421.36 552.53 L420.70 551.75 L419.91 551.17 L419.01 550.72 L418.01 550.38 L416.94 550.14 L415.83 549.99 L414.70 549.90 L413.50 549.87 L412.20 549.92 L410.86 550.05 L409.53 550.27 L408.29 550.59 L407.20 551.00 L406.23 551.54 L405.34 552.22 L404.53 552.99 L403.81 553.82 L403.20 554.67 L402.70 555.50 L402.35 556.32 L402.16 557.17 L402.07 558.03 L402.03 558.92 L402.01 559.82 L401.95 560.75 L401.89 561.75 L401.86 562.82 L401.85 563.91 L401.82 564.97 L401.74 565.94 L401.60 566.75 L401.39 567.42 L401.12 567.98 L400.82 568.45 L400.47 568.84 L400.10 569.15 L399.70 569.40 L399.25 569.54 L398.74 569.54 L398.19 569.47 L397.65 569.39 L397.14 569.34 L396.70 569.40 L396.36 569.50 L396.12 569.57 L395.90 569.69 L395.67 569.91 L395.37 570.29 L394.95 570.90 L394.38 571.79 L393.70 572.93 L392.95 574.23 L392.17 575.61 L391.41 576.98 L390.70 578.25 L390.06 579.45 L389.47 580.65 L388.89 581.84 L388.29 583.01 L387.66 584.13 L386.95 585.20 L386.17 586.22 L385.34 587.20 L384.47 588.14 L383.56 589.04 L382.64 589.89 L381.70 590.70 L380.76 591.47 L379.81 592.21 L378.84 592.90 L377.84 593.54 L376.80 594.11 L375.70 594.60 L374.54 595.02 L373.31 595.38 L372.04 595.68 L370.76 595.90 L369.47 596.04 L368.20 596.10 L366.95 596.05 L365.70 595.87 L364.45 595.62 L363.20 595.34 L361.95 595.05 L360.70 594.80 L360.70 594.77 L359.12 594.29 L357.53 593.82 L355.95 593.37 L354.36 592.94 L352.78 592.52 L351.20 592.12 L349.61 591.74 L348.03 591.37 L346.45 591.02 L344.86 590.69 L343.28 590.37 L341.69 590.07 L340.11 589.78 L338.53 589.51 L336.94 589.26 L335.36 589.02 L333.77 588.80 L332.19 588.59 L330.61 588.40 L329.02 588.22 L327.44 588.06 L325.85 587.92 L324.27 587.79 L322.69 587.67 L321.10 587.57 L319.52 587.49 L317.94 587.42 L316.35 587.37 L314.77 587.33 L313.18 587.31 L311.60 587.30" stroke-width="2.8"/><path d="M219.00 516.01 L218.00 516.62 L216.94 517.22 L215.89 517.82 L214.89 518.43 L213.98 519.09 L213.20 519.80 L212.56 520.57 L212.03 521.38 L211.59 522.23 L211.23 523.12 L210.94 524.04 L210.70 525.00 L210.52 526.03 L210.40 527.13 L210.36 528.26 L210.37 529.40 L210.46 530.49 L210.60 531.50 L210.74 532.26 L210.87 532.78 L211.06 533.25 L211.39 533.89 L211.94 534.90 L212.80 536.50 L214.02 538.74 L215.56 541.48 L217.31 544.59 L219.20 547.96 L221.13 551.47 L223.00 555.00 L224.85 558.63 L226.76 562.46 L228.71 566.44 L230.68 570.48 L232.65 574.53 L234.60 578.50 L236.23 582.30 L236.82 583.35 L237.47 584.33 L238.20 585.28 L238.98 586.20 L239.81 587.10 L240.68 587.96 L241.56 588.77 L242.47 589.55 L243.37 590.30 L244.28 591.00 L245.20 591.66 L246.12 592.25 L247.07 592.76 L248.06 593.21 L249.13 593.60 L250.27 593.93 L251.45 594.20 L252.65 594.41 L253.85 594.54 L255.00 594.60 L256.11 594.55 L257.25 594.39 L258.43 594.16 L259.66 593.88 L260.93 593.58 L262.11 593.35 L263.64 592.86 L265.25 592.38 L266.85 591.93 L268.45 591.49 L270.04 591.07 L271.64 590.67 L273.24 590.28 L274.84 589.91 L276.44 589.56 L278.04 589.22 L279.63 588.90 L281.23 588.59 L282.83 588.30 L284.43 588.03 L286.03 587.78 L287.63 587.54 L289.22 587.31 L290.82 587.10 L292.42 586.91 L294.02 586.73 L295.62 586.57 L297.22 586.42 L298.81 586.29 L300.41 586.18 L302.01 586.08 L303.61 585.99 L305.21 585.92 L306.81 585.87 L308.40 585.83 L310.00 585.81 L311.59 585.80"/><path d="M404.20 516.01 L405.20 516.62 L406.26 517.22 L407.31 517.82 L408.31 518.43 L409.22 519.09 L410.00 519.80 L410.64 520.57 L411.17 521.38 L411.61 522.23 L411.97 523.12 L412.26 524.04 L412.50 525.00 L412.68 526.03 L412.80 527.13 L412.84 528.26 L412.83 529.40 L412.74 530.49 L412.60 531.50 L412.46 532.26 L412.33 532.78 L412.14 533.25 L411.81 533.89 L411.26 534.90 L410.40 536.50 L409.18 538.74 L407.64 541.48 L405.89 544.59 L404.00 547.96 L402.07 551.47 L400.20 555.00 L398.35 558.63 L396.44 562.46 L394.49 566.44 L392.52 570.48 L390.55 574.53 L388.60 578.50 L386.97 582.30 L386.38 583.35 L385.73 584.33 L385.00 585.28 L384.22 586.20 L383.39 587.10 L382.52 587.96 L381.64 588.77 L380.73 589.55 L379.83 590.30 L378.92 591.00 L378.00 591.66 L377.08 592.25 L376.13 592.76 L375.14 593.21 L374.07 593.60 L372.93 593.93 L371.75 594.20 L370.55 594.41 L369.35 594.54 L368.20 594.60 L367.09 594.55 L365.95 594.39 L364.77 594.16 L363.54 593.88 L362.27 593.58 L361.09 593.35 L359.56 592.86 L357.95 592.38 L356.35 591.93 L354.75 591.49 L353.16 591.07 L351.56 590.67 L349.96 590.28 L348.36 589.91 L346.76 589.56 L345.16 589.22 L343.57 588.90 L341.97 588.59 L340.37 588.30 L338.77 588.03 L337.17 587.78 L335.57 587.54 L333.98 587.31 L332.38 587.10 L330.78 586.91 L329.18 586.73 L327.58 586.57 L325.98 586.42 L324.39 586.29 L322.79 586.18 L321.19 586.08 L319.59 585.99 L317.99 585.92 L316.39 585.87 L314.80 585.83 L313.20 585.81 L311.61 585.80"/><path d="M237 508.89 L237 580.50"/><path d="M386.20 508.89 L386.20 580.50"/><path d="M295.50 330.00 L295.90 329.64 L296.31 329.28 L296.72 328.93 L297.12 328.57 L297.50 328.20 L297.85 327.81 L298.17 327.39 L298.49 326.99 L298.83 326.61 L299.20 326.30 L299.62 326.06 L300.07 325.86 L300.54 325.70 L301.02 325.58 L301.50 325.50 L301.98 325.46 L302.47 325.48 L302.97 325.52 L303.48 325.57 L304.00 325.60 L304.53 325.62 L305.08 325.64 L305.64 325.66 L306.20 325.68 L306.75 325.70"/><path d="M327.70 330.00 L327.30 329.64 L326.89 329.28 L326.48 328.93 L326.08 328.57 L325.70 328.20 L325.35 327.81 L325.03 327.39 L324.71 326.99 L324.37 326.61 L324.00 326.30 L323.58 326.06 L323.13 325.86 L322.66 325.70 L322.18 325.58 L321.70 325.50 L321.22 325.46 L320.73 325.48 L320.23 325.52 L319.72 325.57 L319.20 325.60 L318.67 325.62 L318.12 325.64 L317.56 325.66 L317.00 325.68 L316.45 325.70"/><path d="M296.30 330.50 L296.79 330.83 L297.29 331.15 L297.79 331.47 L298.28 331.80 L298.75 332.17 L299.20 332.60 L299.62 333.09 L300.02 333.62 L300.41 334.19 L300.78 334.79 L301.14 335.40 L301.50 336.00 L301.84 336.62 L302.14 337.26 L302.44 337.91 L302.75 338.56 L303.09 339.20 L303.50 339.80 L303.96 340.39 L304.45 340.97 L304.97 341.54 L305.54 342.08 L306.15 342.57 L306.80 343.00 L307.51 343.38 L308.29 343.74 L309.11 344.04 L309.94 344.29 L310.78 344.44 L311.60 344.50 L312.42 344.44 L313.26 344.29 L314.09 344.04 L314.91 343.74 L315.69 343.38 L316.40 343.00 L317.05 342.57 L317.66 342.08 L318.23 341.54 L318.75 340.97 L319.24 340.39 L319.70 339.80 L320.11 339.20 L320.45 338.56 L320.76 337.91 L321.06 337.26 L321.36 336.62 L321.70 336.00 L322.06 335.40 L322.42 334.79 L322.79 334.19 L323.18 333.62 L323.58 333.09 L324.00 332.60 L324.45 332.17 L324.92 331.80 L325.41 331.47 L325.91 331.15 L326.41 330.83 L326.90 330.50"/><path d="M306.20 331.50 L306.24 332.00 L306.27 332.50 L306.30 333.01 L306.34 333.51 L306.40 334.01 L306.50 334.50 L306.63 335.00 L306.78 335.51 L306.96 336.02 L307.15 336.51 L307.37 336.98 L307.60 337.40 L307.85 337.79 L308.13 338.16 L308.43 338.49 L308.74 338.80 L309.07 339.07 L309.40 339.30 L309.74 339.49 L310.10 339.64 L310.48 339.76 L310.85 339.84 L311.23 339.88 L311.60 339.90 L311.97 339.88 L312.35 339.84 L312.73 339.76 L313.10 339.64 L313.46 339.49 L313.80 339.30 L314.13 339.07 L314.46 338.80 L314.77 338.49 L315.07 338.16 L315.35 337.79 L315.60 337.40 L315.83 336.98 L316.05 336.51 L316.24 336.02 L316.42 335.51 L316.57 335.00 L316.70 334.50 L316.80 334.01 L316.86 333.51 L316.90 333.01 L316.93 332.50 L316.96 332.00 L317.00 331.50"/><path d="M306.9 335.5 V322.4 H316.4 V335.5 Z"/><path d="M297.50 496.90 L297.83 496.74 L298.17 496.58 L298.50 496.42 L298.83 496.26 L299.17 496.09 L299.50 495.90 L299.82 495.69 L300.13 495.45 L300.44 495.20 L300.76 494.95 L301.11 494.71 L301.50 494.50 L301.94 494.30 L302.41 494.12 L302.91 493.94 L303.43 493.78 L303.96 493.63 L304.50 493.50 L305.05 493.38 L305.63 493.28 L306.21 493.19 L306.81 493.12 L307.41 493.05 L308.00 493.00 L308.59 492.96 L309.19 492.93 L309.79 492.91 L310.40 492.90 L311.00 492.90 L311.60 492.90 L312.20 492.90 L312.80 492.90 L313.41 492.91 L314.01 492.93 L314.61 492.96 L315.20 493.00 L315.79 493.05 L316.39 493.12 L316.99 493.19 L317.57 493.28 L318.15 493.38 L318.70 493.50 L319.24 493.63 L319.77 493.78 L320.29 493.94 L320.79 494.12 L321.26 494.30 L321.70 494.50 L322.09 494.71 L322.44 494.95 L322.76 495.20 L323.07 495.45 L323.38 495.69 L323.70 495.90 L324.03 496.09 L324.37 496.26 L324.70 496.42 L325.03 496.58 L325.37 496.74 L325.70 496.90"/><path d="M298.60 497.60 L298.94 498.02 L299.30 498.42 L299.65 498.82 L299.99 499.24 L300.31 499.70 L300.60 500.20 L300.84 500.76 L301.03 501.38 L301.20 502.02 L301.37 502.69 L301.56 503.35 L301.80 504.00 L302.07 504.65 L302.36 505.31 L302.68 505.97 L303.01 506.62 L303.39 507.24 L303.80 507.80 L304.25 508.32 L304.73 508.81 L305.24 509.27 L305.79 509.69 L306.37 510.07 L307.00 510.40 L307.69 510.70 L308.43 510.96 L309.21 511.18 L310.01 511.35 L310.82 511.46 L311.60 511.50 L312.38 511.46 L313.19 511.35 L313.99 511.18 L314.77 510.96 L315.51 510.70 L316.20 510.40 L316.83 510.07 L317.41 509.69 L317.96 509.27 L318.47 508.81 L318.95 508.32 L319.40 507.80 L319.81 507.24 L320.19 506.62 L320.53 505.98 L320.84 505.31 L321.13 504.65 L321.40 504.00 L321.64 503.35 L321.83 502.69 L322.00 502.03 L322.17 501.38 L322.36 500.76 L322.60 500.20 L322.89 499.70 L323.21 499.24 L323.55 498.83 L323.90 498.42 L324.26 498.02 L324.60 497.60"/><path d="M309.4 344.30 L309.4 418.80"/><path d="M313.8 344.30 L313.8 418.80"/><path d="M309.4 511.30 L309.4 585.80"/><path d="M313.8 511.30 L313.8 585.80"/><path d="M239.76 340.15 L240.84 339.81 L241.92 339.48 L243.00 339.15 L244.08 338.82 L245.16 338.50 L246.24 338.19 L247.32 337.88 L248.40 337.58 L249.48 337.29 L250.56 336.99 L251.64 336.71 L252.72 336.43 L253.80 336.16 L253.53 335.09 L252.45 335.36 L251.37 335.65 L250.28 335.93 L249.19 336.22 L248.11 336.52 L247.02 336.82 L245.94 337.13 L244.85 337.45 L243.77 337.77 L242.68 338.09 L241.60 338.42 L240.51 338.76 L239.43 339.10Z" stroke-width="0.9" fill="#1f1e1e" stroke-opacity="0.8"/><path d="M383.44 340.15 L382.36 339.81 L381.28 339.48 L380.20 339.15 L379.12 338.82 L378.04 338.50 L376.96 338.19 L375.88 337.88 L374.80 337.58 L373.72 337.29 L372.64 336.99 L371.56 336.71 L370.48 336.43 L369.40 336.16 L369.67 335.09 L370.75 335.36 L371.83 335.65 L372.92 335.93 L374.01 336.22 L375.09 336.52 L376.18 336.82 L377.26 337.13 L378.35 337.45 L379.43 337.77 L380.52 338.09 L381.60 338.42 L382.69 338.76 L383.77 339.10Z" stroke-width="0.9" fill="#1f1e1e" stroke-opacity="0.8"/><path d="M267.43 427.98 L268.51 427.69 L269.58 427.40 L270.65 427.11 L271.72 426.84 L272.80 426.57 L273.87 426.32 L274.94 426.07 L276.02 425.82 L277.09 425.59 L278.16 425.36 L279.23 425.14 L280.31 424.92 L280.72 426.98 L279.65 427.20 L278.59 427.41 L277.53 427.64 L276.47 427.87 L275.41 428.11 L274.35 428.36 L273.30 428.61 L272.24 428.88 L271.18 429.15 L270.12 429.43 L269.06 429.71 L267.99 430.01Z" stroke-width="1.4"/><path d="M355.77 427.98 L354.69 427.69 L353.62 427.40 L352.55 427.11 L351.48 426.84 L350.40 426.57 L349.33 426.32 L348.26 426.07 L347.18 425.82 L346.11 425.59 L345.04 425.36 L343.97 425.14 L342.89 424.92 L342.48 426.98 L343.55 427.20 L344.61 427.41 L345.67 427.64 L346.73 427.87 L347.79 428.11 L348.85 428.36 L349.90 428.61 L350.96 428.88 L352.02 429.15 L353.08 429.43 L354.14 429.71 L355.21 430.01Z" stroke-width="1.4"/><path d="M239.76 507.15 L240.84 506.81 L241.92 506.48 L243.00 506.15 L244.08 505.82 L245.16 505.50 L246.24 505.19 L247.32 504.88 L248.40 504.58 L249.48 504.29 L250.56 503.99 L251.64 503.71 L252.72 503.43 L253.80 503.16 L253.53 502.09 L252.45 502.36 L251.37 502.65 L250.28 502.93 L249.19 503.22 L248.11 503.52 L247.02 503.82 L245.94 504.13 L244.85 504.45 L243.77 504.77 L242.68 505.09 L241.60 505.42 L240.51 505.76 L239.43 506.10Z" stroke-width="0.9" fill="#1f1e1e" stroke-opacity="0.8"/><path d="M383.44 507.15 L382.36 506.81 L381.28 506.48 L380.20 506.15 L379.12 505.82 L378.04 505.50 L376.96 505.19 L375.88 504.88 L374.80 504.58 L373.72 504.29 L372.64 503.99 L371.56 503.71 L370.48 503.43 L369.40 503.16 L369.67 502.09 L370.75 502.36 L371.83 502.65 L372.92 502.93 L374.01 503.22 L375.09 503.52 L376.18 503.82 L377.26 504.13 L378.35 504.45 L379.43 504.77 L380.52 505.09 L381.60 505.42 L382.69 505.76 L383.77 506.10Z" stroke-width="0.9" fill="#1f1e1e" stroke-opacity="0.8"/><path d="M267.43 594.98 L268.51 594.69 L269.58 594.40 L270.65 594.11 L271.72 593.84 L272.80 593.57 L273.87 593.32 L274.94 593.07 L276.02 592.82 L277.09 592.59 L278.16 592.36 L279.23 592.14 L280.31 591.92 L280.72 593.98 L279.65 594.20 L278.59 594.41 L277.53 594.64 L276.47 594.87 L275.41 595.11 L274.35 595.36 L273.30 595.61 L272.24 595.88 L271.18 596.15 L270.12 596.43 L269.06 596.71 L267.99 597.01Z" stroke-width="1.4"/><path d="M355.77 594.98 L354.69 594.69 L353.62 594.40 L352.55 594.11 L351.48 593.84 L350.40 593.57 L349.33 593.32 L348.26 593.07 L347.18 592.82 L346.11 592.59 L345.04 592.36 L343.97 592.14 L342.89 591.92 L342.48 593.98 L343.55 594.20 L344.61 594.41 L345.67 594.64 L346.73 594.87 L347.79 595.11 L348.85 595.36 L349.90 595.61 L350.96 595.88 L352.02 596.15 L353.08 596.43 L354.14 596.71 L355.21 597.01Z" stroke-width="1.4"/></g></svg></body></html>
